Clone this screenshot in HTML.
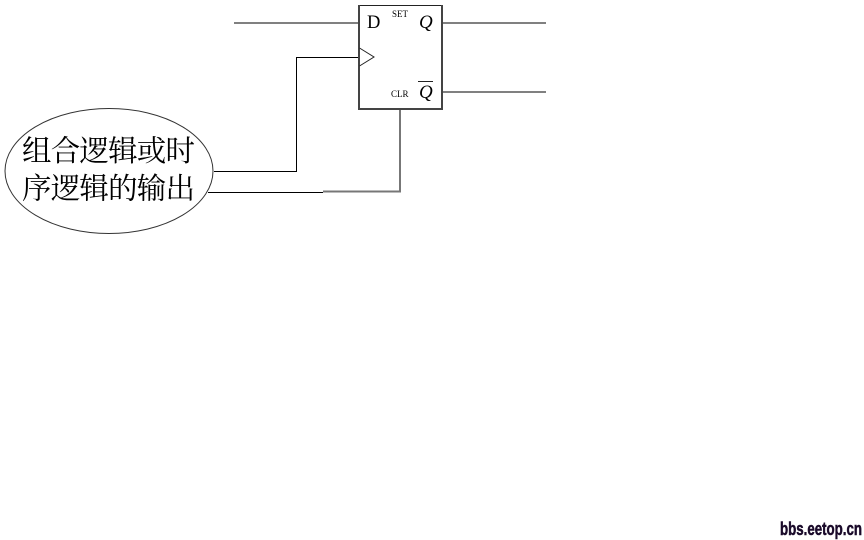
<!DOCTYPE html>
<html>
<head>
<meta charset="utf-8">
<style>
html,body{margin:0;padding:0;background:#fff;}
body{width:864px;height:540px;overflow:hidden;}
svg{display:block;}
</style>
</head>
<body>
<svg width="864" height="540" viewBox="0 0 864 540" xmlns="http://www.w3.org/2000/svg">
<rect width="864" height="540" fill="#fff"/>
<g fill="none" shape-rendering="crispEdges">
<path d="M234 23H358M442 23H546M442 92H546" stroke="#808080" stroke-width="2"/>
<path d="M400 109V192M323 191.700H401" stroke="#777" stroke-width="2"/>
<path d="M214 171.500H296.500V57.500H359" stroke="#000" stroke-width="1"/>
<path d="M208 192.500H323" stroke="#000" stroke-width="1"/>
<path d="M358 5.500H442" stroke="#222" stroke-width="1"/>
<path d="M359 5V110M358 109H443M442 5V110" stroke="#444" stroke-width="2"/>
</g>
<path d="M359.500 48L374 57L359.500 66" fill="none" stroke="#222" stroke-width="1"/>
<ellipse cx="109" cy="171" rx="104" ry="62.500" fill="none" stroke="#333" stroke-width="1"/>
<g font-family="'Liberation Serif','Noto Serif CJK SC',serif" fill="#000">
<text x="367" y="28" font-size="18.500">D</text>
<text x="392" y="17" font-size="9">SET</text>
<text x="419" y="28" font-size="19" font-style="italic">Q</text>
<text x="391" y="97" font-size="9">CLR</text>
<text x="419" y="98" font-size="19" font-style="italic">Q</text>
<text x="22" y="161" font-size="29.500" textLength="173" lengthAdjust="spacing">组合逻辑或时</text>
<text x="22" y="198.500" font-size="29.500" textLength="173" lengthAdjust="spacing">序逻辑的输出</text>
</g>
<path d="M418 81.500H433" stroke="#222" stroke-width="1" shape-rendering="crispEdges"/>
<text x="780" y="535" font-family="'Liberation Sans',sans-serif" font-size="18" font-weight="bold" fill="#1a0a2a" stroke="#1a0a2a" stroke-width="0.500" textLength="82" lengthAdjust="spacingAndGlyphs">bbs.eetop.cn</text>
</svg>
</body>
</html>
